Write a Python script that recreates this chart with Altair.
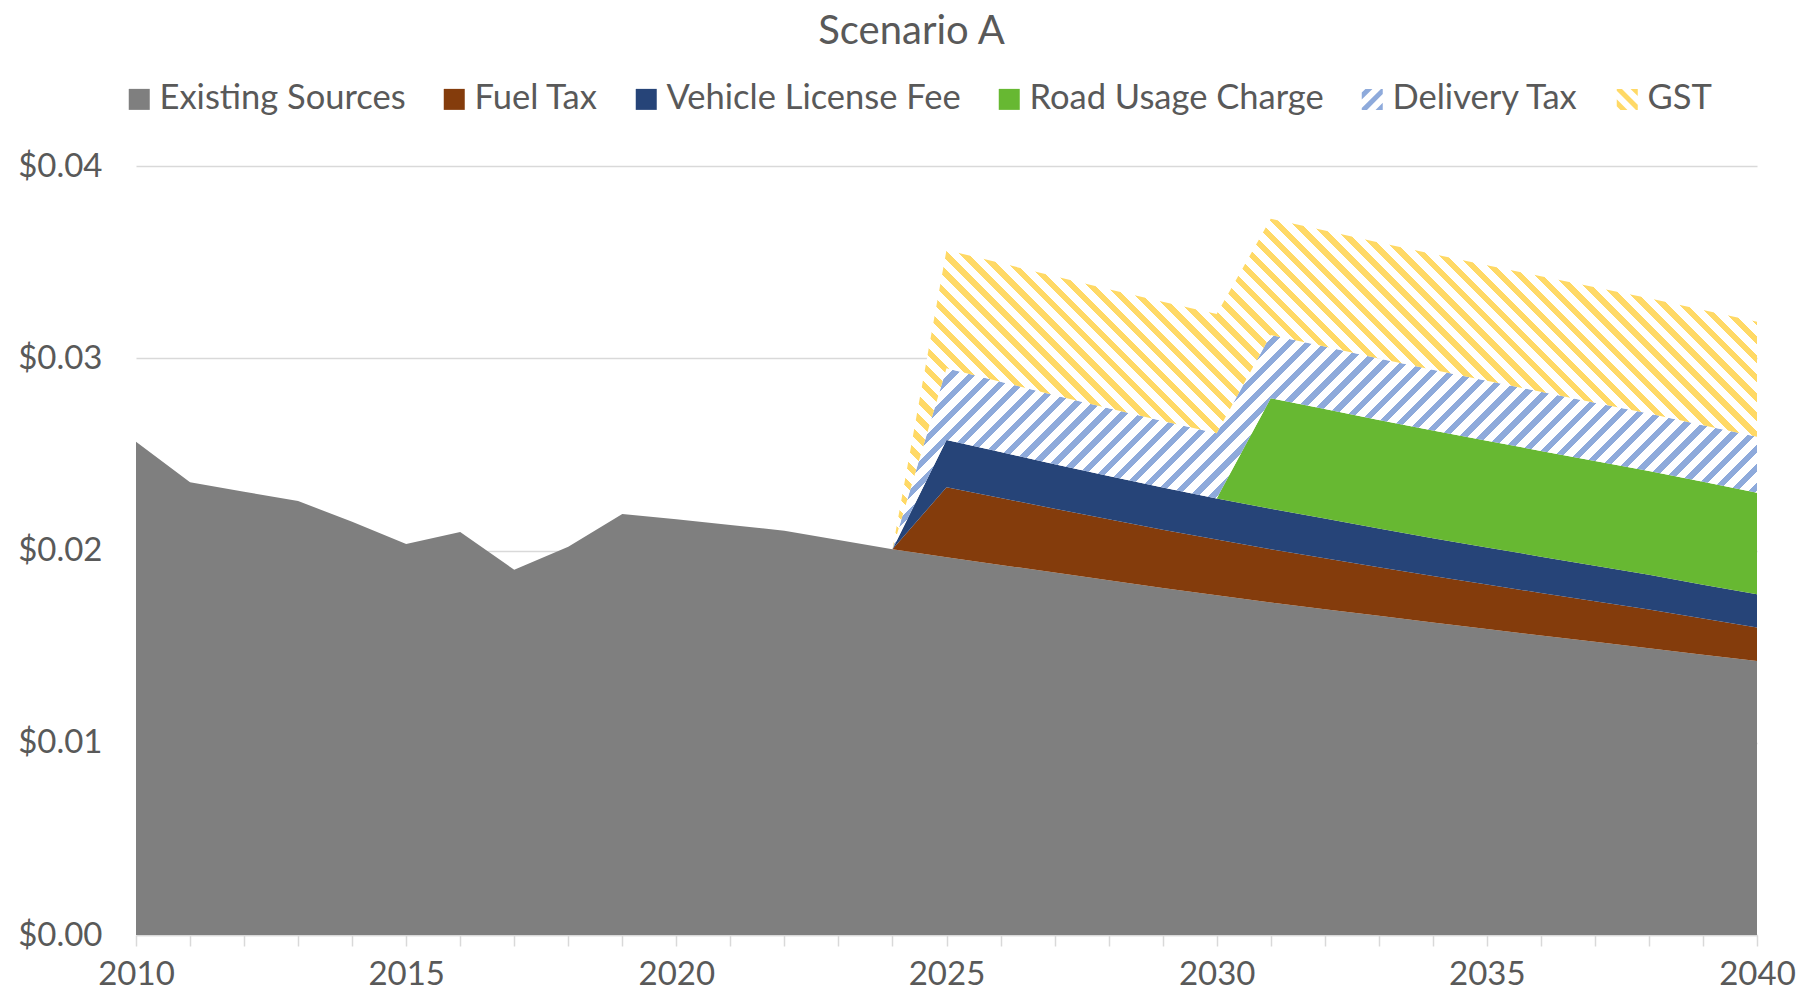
import math
import altair as alt
import pandas as pd

# ---------------- data ----------------
years = list(range(2010, 2041))
existing = [0.02566, 0.02355, 0.02306, 0.02257, 0.02150, 0.02034, 0.02096, 0.01900,
            0.02020, 0.02190, 0.02162, 0.02133, 0.02103, 0.02055, 0.02006, 0.01965,
            0.01925, 0.01885, 0.01845, 0.01805, 0.01767, 0.01730, 0.01695, 0.01660,
            0.01625, 0.01592, 0.01558, 0.01525, 0.01492, 0.01458, 0.01425]

proj_years = list(range(2024, 2041))
fuel_tax = [0, 0.00364, 0.00348, 0.00332, 0.00317, 0.00303, 0.00290, 0.00277, 0.00265,
            0.00253, 0.00242, 0.00231, 0.00221, 0.00211, 0.00201, 0.00188, 0.00175]
vehicle_fee = [0, 0.00246, 0.00239, 0.00232, 0.00226, 0.00220, 0.00214, 0.00210, 0.00206,
               0.00201, 0.00197, 0.00193, 0.00189, 0.00185, 0.00181, 0.00176, 0.00172]
road_usage = [0, 0, 0, 0, 0, 0, 0, 0.00575, 0.00570, 0.00565, 0.00560, 0.00555,
              0.00550, 0.00545, 0.00540, 0.00535, 0.00529]
delivery_tax = [0, 0.00373, 0.00366, 0.00359, 0.00352, 0.00346, 0.00339, 0.00329, 0.00325,
                0.00320, 0.00316, 0.00312, 0.00308, 0.00303, 0.00299, 0.00295, 0.00291]
gst = [0, 0.00615, 0.00617, 0.00618, 0.00619, 0.00620, 0.00620, 0.00604, 0.00604,
       0.00603, 0.00602, 0.00601, 0.00601, 0.00600, 0.00599, 0.00599, 0.00598]

series_names = ["Existing Sources", "Fuel Tax", "Vehicle License Fee",
                "Road Usage Charge", "Delivery Tax", "GST"]
series_colors = ["#7f7f7f", "#843c0c", "#264478", "#67b832", "#8eaadb", "#ffd966"]
y_ticks = [0, 0.01, 0.02, 0.03, 0.04]

# ---------------- build stacked table ----------------
rows = []
for yr, v in zip(years, existing):
    rows.append({"year": yr, "series": "Existing Sources", "lo": 0.0, "hi": v})

base = {yr: v for yr, v in zip(years, existing)}
proj = [("Fuel Tax", fuel_tax), ("Vehicle License Fee", vehicle_fee),
        ("Road Usage Charge", road_usage), ("Delivery Tax", delivery_tax), ("GST", gst)]
cum = [base[yr] for yr in proj_years]
for name, vals in proj:
    first_nz = next(i for i, v in enumerate(vals) if v > 0)
    start = max(0, first_nz - 1)
    for i, yr in enumerate(proj_years):
        lo = cum[i]
        hi = lo + vals[i]
        if i >= start:
            rows.append({"year": yr, "series": name, "lo": lo, "hi": hi})
        cum[i] = hi
df = pd.DataFrame(rows)
legend_df = pd.DataFrame({"series": series_names})

# ---------------- layout constants ----------------
W, H = 1621, 769
X0, X1 = 2010, 2040
Y0, Y1 = 0.0, 0.04
FONT = "Lato"
TXT = "#595959"
GRID = "#d9d9d9"


def hatch(color, w, h, period, frac, upward):
    """Linear gradient with hard stops imitating a 45-degree hatch."""
    s = (w + h) / (w * w + h * h)
    n = (w + h) / math.sqrt(2) / period
    stops = []
    k = int(math.ceil(n))
    for i in range(k):
        a = min(i / n, 1.0)
        b = min((i + frac) / n, 1.0)
        c = min((i + 1) / n, 1.0)
        stops += [alt.GradientStop(offset=a, color=color),
                  alt.GradientStop(offset=b, color=color),
                  alt.GradientStop(offset=b, color="#ffffff"),
                  alt.GradientStop(offset=c, color="#ffffff")]
    if upward:
        return alt.Gradient(gradient="linear", stops=stops,
                            x1=0, y1=0, x2=s * w, y2=s * h)
    return alt.Gradient(gradient="linear", stops=stops,
                        x1=0, y1=1, x2=s * w, y2=1 - s * h)


def bbox_px(name):
    d = df[df.series == name]
    w = (d.year.max() - d.year.min()) / (X1 - X0) * W
    h = (d.hi.max() - d.lo.min()) / (Y1 - Y0) * H
    return w, h


def clip(poly, f, c, ge):
    out = []
    n = len(poly)
    for i in range(n):
        p, q = poly[i], poly[(i + 1) % n]
        fp, fq = f(*p) - c, f(*q) - c
        inp = fp >= 0 if ge else fp <= 0
        inq = fq >= 0 if ge else fq <= 0
        if inp:
            out.append(p)
        if inp != inq:
            t = fp / (fp - fq)
            out.append((p[0] + t * (q[0] - p[0]), p[1] + t * (q[1] - p[1])))
    return out


def stripe_shape(upward, period_px, frac, side_px=21, phase=0.35):
    """Custom legend symbol path: diagonal stripes inside the unit square."""
    f = (lambda x, y: x + y) if upward else (lambda x, y: x - y)
    pc = period_px / (side_px / 2) * math.sqrt(2)
    wc = pc * frac
    parts = []
    c = -2 + phase - pc
    while c < 2:
        sq = [(-1, -1), (1, -1), (1, 1), (-1, 1)]
        poly = clip(clip(sq, f, c, True), f, c + wc, False)
        if len(poly) >= 3:
            parts.append("M" + " L".join(f"{x:.3f},{y:.3f}" for x, y in poly) + " Z")
        c += pc
    return " ".join(parts)


PERIOD = 13.5
FRAC = 0.44
g_del = hatch(series_colors[4], *bbox_px("Delivery Tax"), PERIOD, FRAC, True)
g_gst = hatch(series_colors[5], *bbox_px("GST"), PERIOD, FRAC, False)
series_shapes = ["square", "square", "square", "square",
                 stripe_shape(True, 11, 0.45), stripe_shape(False, 11, 0.45)]

x_enc = alt.X("year:Q",
              scale=alt.Scale(domain=[X0, X1], nice=False, zero=False),
              axis=alt.Axis(values=years,
                            labelExpr="datum.value % 5 === 0 ? '' + datum.value : ''",
                            labelFlush=False, labelOverlap=False, grid=False,
                            tickSize=11, tickColor=GRID, tickWidth=1.5,
                            domainColor=GRID, domainWidth=1.5,
                            labelFont=FONT, labelFontSize=33, labelColor=TXT,
                            labelPadding=12, title=None))
y_enc = alt.Y("hi:Q", stack=None,
              scale=alt.Scale(domain=[Y0, Y1], nice=False),
              axis=alt.Axis(values=y_ticks, format="$.2f", grid=True,
                            gridColor=GRID, gridWidth=1.5, ticks=False, domain=False,
                            labelFont=FONT, labelFontSize=33, labelColor=TXT,
                            labelPadding=34, title=None))
y2_enc = alt.Y2("lo:Q")

layers = []
for name, col in zip(series_names[:4], series_colors[:4]):
    layers.append(
        alt.Chart(df).transform_filter(alt.datum.series == name)
        .mark_area(fill=col, opacity=1, strokeWidth=0, interpolate="linear")
        .encode(x=x_enc, y=y_enc, y2=y2_enc)
    )
for name, grad in [("Delivery Tax", g_del), ("GST", g_gst)]:
    layers.append(
        alt.Chart(df).transform_filter(alt.datum.series == name)
        .mark_area(fill=grad, opacity=1, strokeWidth=0, interpolate="linear")
        .encode(x=x_enc, y=y_enc, y2=y2_enc)
    )

leg = alt.Legend(orient="none", legendX=-14, legendY=-84,
                 direction="horizontal", title=None,
                 symbolSize=441, symbolStrokeWidth=0, symbolOpacity=1,
                 labelFont=FONT, labelFontSize=34.5, labelLimit=600,
                 labelColor=TXT, labelOffset=3,
                 columnPadding=31, padding=0)

legend_layer = alt.Chart(legend_df).mark_point(
    filled=True, opacity=1, size=441, clip=True, strokeWidth=0
).encode(
    x=alt.value(-200), y=alt.value(-200),
    color=alt.Color("series:N", sort=series_names,
                    scale=alt.Scale(domain=series_names, range=series_colors),
                    legend=leg),
    shape=alt.Shape("series:N", sort=series_names,
                    scale=alt.Scale(domain=series_names, range=series_shapes),
                    legend=leg),
)
layers.append(legend_layer)

chart = alt.layer(*layers).properties(
    width=W, height=H,
    background="white",
    title=alt.Title("Scenario A", font=FONT, fontSize=40, color=TXT,
                    fontWeight="normal", anchor="middle", dx=-35, offset=30),
    padding={"left": 128, "top": 158, "right": 39, "bottom": 57},
    autosize=alt.AutoSizeParams(type="none"),
).configure_view(stroke="transparent", strokeWidth=0)

chart.save("out.html", embed_options={"renderer": "svg", "actions": False})
